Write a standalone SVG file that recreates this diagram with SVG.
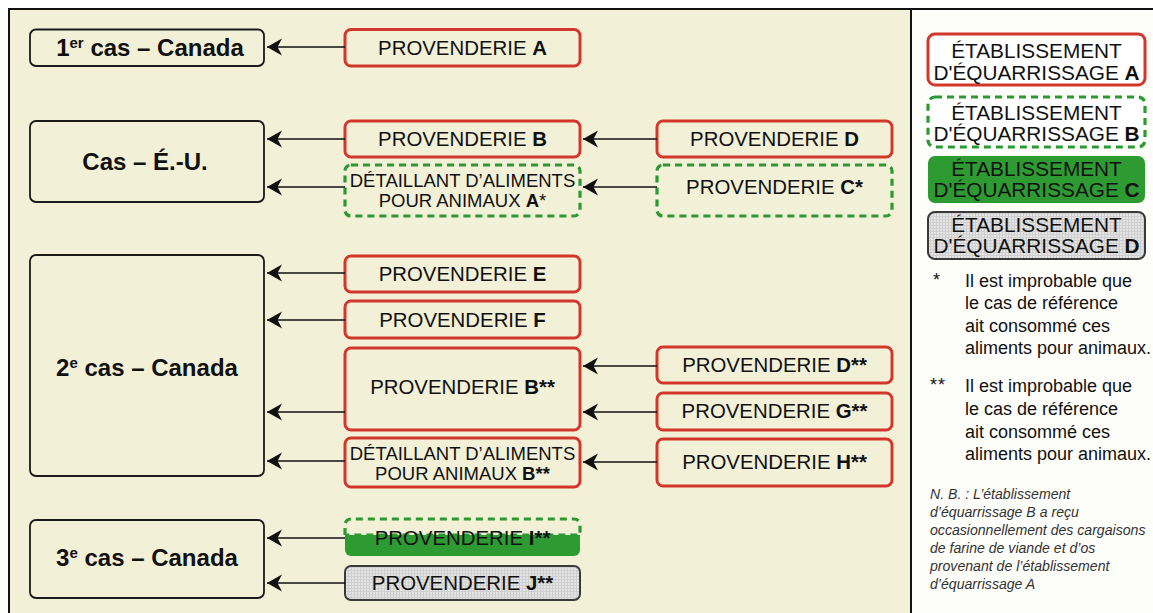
<svg xmlns="http://www.w3.org/2000/svg" width="1153" height="613" viewBox="0 0 1153 613">
<style>
text{font-family:"Liberation Sans",Arial,sans-serif;fill:#111}
.case{fill:#F3F0D8;stroke:#1a1a1a;stroke-width:1.8}
.red{fill:#F3F0D8;stroke:#D3372B;stroke-width:3}
.grn{fill:#F3F0D8;stroke:#2B9A32;stroke-width:3.2;stroke-dasharray:7 5}
.gfill{fill:#2E9B32;stroke:none}
.gray{fill:url(#grid);stroke:#3a3a3a;stroke-width:2}
.lt{font-size:24px;font-weight:bold;text-anchor:middle}
.pt{font-size:20.4px;text-anchor:middle}
.dt{font-size:18.5px;text-anchor:middle}
.lg{font-size:20.8px;text-anchor:middle}
.fn{font-size:18px}
.nb{font-size:14.1px;font-style:italic;fill:#333}
.b{font-weight:bold}
.conn line{stroke:#111;stroke-width:1.6;marker-end:url(#ah)}
</style>
<defs>
<marker id="ah" markerUnits="userSpaceOnUse" viewBox="0 -9 16 18" refX="15" refY="0" markerWidth="16" markerHeight="18" orient="auto">
<path d="M15,0 L0,-8.5 L4.5,0 L0,8.5 Z" fill="#111"/>
</marker>
<pattern id="grid" patternUnits="userSpaceOnUse" width="3" height="3">
<rect width="3" height="3" fill="#E4E4E4"/>
<path d="M0,0.5H3M0.5,0V3" stroke="#CFCFCF" stroke-width="1"/>
</pattern>
</defs>

<!-- background and frame -->
<rect x="0" y="0" width="1153" height="613" fill="#FFFFFF"/>
<rect x="9" y="9" width="902" height="604" fill="#F3F0D8"/>
<rect x="911" y="9" width="242" height="604" fill="#FDFDF9"/>
<path d="M9,613V9H1153M911,9V613" fill="none" stroke="#111" stroke-width="2"/>

<!-- cases -->
<g id="case1"><rect class="case" x="30" y="29.5" width="234" height="36.5" rx="6"/>
<text class="lt" x="150" y="56">1<tspan font-size="15" dy="-8">er</tspan><tspan dy="8"> cas – Canada</tspan></text></g>
<g id="caseUS"><rect class="case" x="30" y="121" width="234" height="81" rx="6"/>
<text class="lt" x="145" y="170">Cas – É.-U.</text></g>
<g id="case2"><rect class="case" x="30" y="255" width="234" height="221" rx="6"/>
<text class="lt" x="147" y="376">2<tspan font-size="15" dy="-8">e</tspan><tspan dy="8"> cas – Canada</tspan></text></g>
<g id="case3"><rect class="case" x="30" y="520" width="234" height="78" rx="6"/>
<text class="lt" x="147" y="566">3<tspan font-size="15" dy="-8">e</tspan><tspan dy="8"> cas – Canada</tspan></text></g>

<!-- feed mills column 1 -->
<g id="provA"><rect class="red" x="345" y="29.5" width="235" height="36.5" rx="6"/>
<text class="pt" x="462.5" y="55">PROVENDERIE <tspan class="b">A</tspan></text></g>
<g id="provB"><rect class="red" x="345" y="121" width="235" height="36" rx="6"/>
<text class="pt" x="462.5" y="146">PROVENDERIE <tspan class="b">B</tspan></text></g>
<g id="detA"><rect class="grn" x="345" y="165" width="235" height="51" rx="6"/>
<text class="dt" x="462.5" y="187">DÉTAILLANT D’ALIMENTS</text>
<text class="dt" x="462.5" y="207">POUR ANIMAUX <tspan class="b">A</tspan>*</text></g>
<g id="provE"><rect class="red" x="345" y="256" width="235" height="36" rx="6"/>
<text class="pt" x="462.5" y="281">PROVENDERIE <tspan class="b">E</tspan></text></g>
<g id="provF"><rect class="red" x="345" y="301" width="235" height="37" rx="6"/>
<text class="pt" x="462.5" y="327">PROVENDERIE <tspan class="b">F</tspan></text></g>
<g id="provB2"><rect class="red" x="345" y="348" width="235" height="82" rx="6"/>
<text class="pt" x="462.5" y="394">PROVENDERIE <tspan class="b">B**</tspan></text></g>
<g id="detB"><rect class="red" x="345" y="438" width="235" height="49" rx="6"/>
<text class="dt" x="462.5" y="460">DÉTAILLANT D’ALIMENTS</text>
<text class="dt" x="462.5" y="480">POUR ANIMAUX <tspan class="b">B**</tspan></text></g>
<g id="provI"><path class="gfill" d="M345,535H580V550a6,6 0 0 1 -6,6H351a6,6 0 0 1 -6,-6Z"/>
<path d="M345,535V525a6,6 0 0 1 6,-6H574a6,6 0 0 1 6,6V535H345" fill="none" stroke="#2B9A32" stroke-width="3.2" stroke-dasharray="7 5"/>
<text class="pt" x="462.5" y="545">PROVENDERIE <tspan class="b">I**</tspan></text></g>
<g id="provJ"><rect class="gray" x="345" y="566" width="235" height="34" rx="6"/>
<text class="pt" x="462.5" y="590">PROVENDERIE <tspan class="b">J**</tspan></text></g>

<!-- feed mills column 2 -->
<g id="provD"><rect class="red" x="657" y="121" width="235" height="36" rx="6"/>
<text class="pt" x="774.5" y="146">PROVENDERIE <tspan class="b">D</tspan></text></g>
<g id="provC"><rect class="grn" x="657" y="165" width="235" height="51" rx="6"/>
<text class="pt" x="774.5" y="194">PROVENDERIE <tspan class="b">C*</tspan></text></g>
<g id="provD2"><rect class="red" x="657" y="347" width="235" height="36" rx="6"/>
<text class="pt" x="774.5" y="372">PROVENDERIE <tspan class="b">D**</tspan></text></g>
<g id="provG"><rect class="red" x="657" y="393" width="235" height="37" rx="6"/>
<text class="pt" x="774.5" y="418">PROVENDERIE <tspan class="b">G**</tspan></text></g>
<g id="provH"><rect class="red" x="657" y="439" width="235" height="47" rx="6"/>
<text class="pt" x="774.5" y="469">PROVENDERIE <tspan class="b">H**</tspan></text></g>

<!-- connectors -->
<g class="conn" id="connectors">
<line x1="345" y1="47" x2="267" y2="47"/>
<line x1="345" y1="139" x2="267" y2="139"/>
<line x1="345" y1="187" x2="267" y2="187"/>
<line x1="345" y1="273" x2="267" y2="273"/>
<line x1="345" y1="320" x2="267" y2="320"/>
<line x1="345" y1="412" x2="267" y2="412"/>
<line x1="345" y1="461" x2="267" y2="461"/>
<line x1="345" y1="538" x2="267" y2="538"/>
<line x1="345" y1="583" x2="267" y2="583"/>
<line x1="657" y1="139" x2="583" y2="139"/>
<line x1="657" y1="187" x2="583" y2="187"/>
<line x1="657" y1="366" x2="583" y2="366"/>
<line x1="657" y1="412" x2="583" y2="412"/>
<line x1="657" y1="462" x2="583" y2="462"/>
</g>

<!-- legend -->
<g id="legA"><rect x="928" y="34" width="217" height="51" rx="7" fill="#FFFFFF" stroke="#D3372B" stroke-width="3"/>
<text class="lg" x="1036.5" y="58">ÉTABLISSEMENT</text>
<text class="lg" x="1036.5" y="80">D'ÉQUARRISSAGE <tspan class="b">A</tspan></text></g>
<g id="legB"><rect x="928" y="97" width="217" height="50" rx="7" fill="#FFFFFF" stroke="#2B9A32" stroke-width="3.2" stroke-dasharray="7 5"/>
<text class="lg" x="1036.5" y="120">ÉTABLISSEMENT</text>
<text class="lg" x="1036.5" y="141">D'ÉQUARRISSAGE <tspan class="b">B</tspan></text></g>
<g id="legC"><rect x="928" y="156" width="217" height="47" rx="7" fill="#2E9B32"/>
<text class="lg" x="1036.5" y="176">ÉTABLISSEMENT</text>
<text class="lg" x="1036.5" y="197">D'ÉQUARRISSAGE <tspan class="b">C</tspan></text></g>
<g id="legD"><rect x="928" y="212" width="217" height="47" rx="7" fill="url(#grid)" stroke="#3a3a3a" stroke-width="2"/>
<text class="lg" x="1036.5" y="232">ÉTABLISSEMENT</text>
<text class="lg" x="1036.5" y="253">D'ÉQUARRISSAGE <tspan class="b">D</tspan></text></g>

<g id="note1">
<text class="fn" x="933" y="286">*</text>
<text class="fn" x="965" y="287">Il est improbable que</text>
<text class="fn" x="965" y="309">le cas de référence</text>
<text class="fn" x="965" y="332">ait consommé ces</text>
<text class="fn" x="965" y="354">aliments pour animaux.</text>
</g>
<g id="note2">
<text class="fn" x="930" y="391" letter-spacing="1">**</text>
<text class="fn" x="965" y="392">Il est improbable que</text>
<text class="fn" x="965" y="415">le cas de référence</text>
<text class="fn" x="965" y="438">ait consommé ces</text>
<text class="fn" x="965" y="460">aliments pour animaux.</text>
</g>
<g id="nb">
<text class="nb" x="930" y="499">N. B. : L’établissement</text>
<text class="nb" x="930" y="517">d’équarrissage B a reçu</text>
<text class="nb" x="930" y="535">occasionnellement des cargaisons</text>
<text class="nb" x="930" y="553">de farine de viande et d’os</text>
<text class="nb" x="930" y="571">provenant de l’établissement</text>
<text class="nb" x="930" y="589">d’équarrissage A</text>
</g>
</svg>
